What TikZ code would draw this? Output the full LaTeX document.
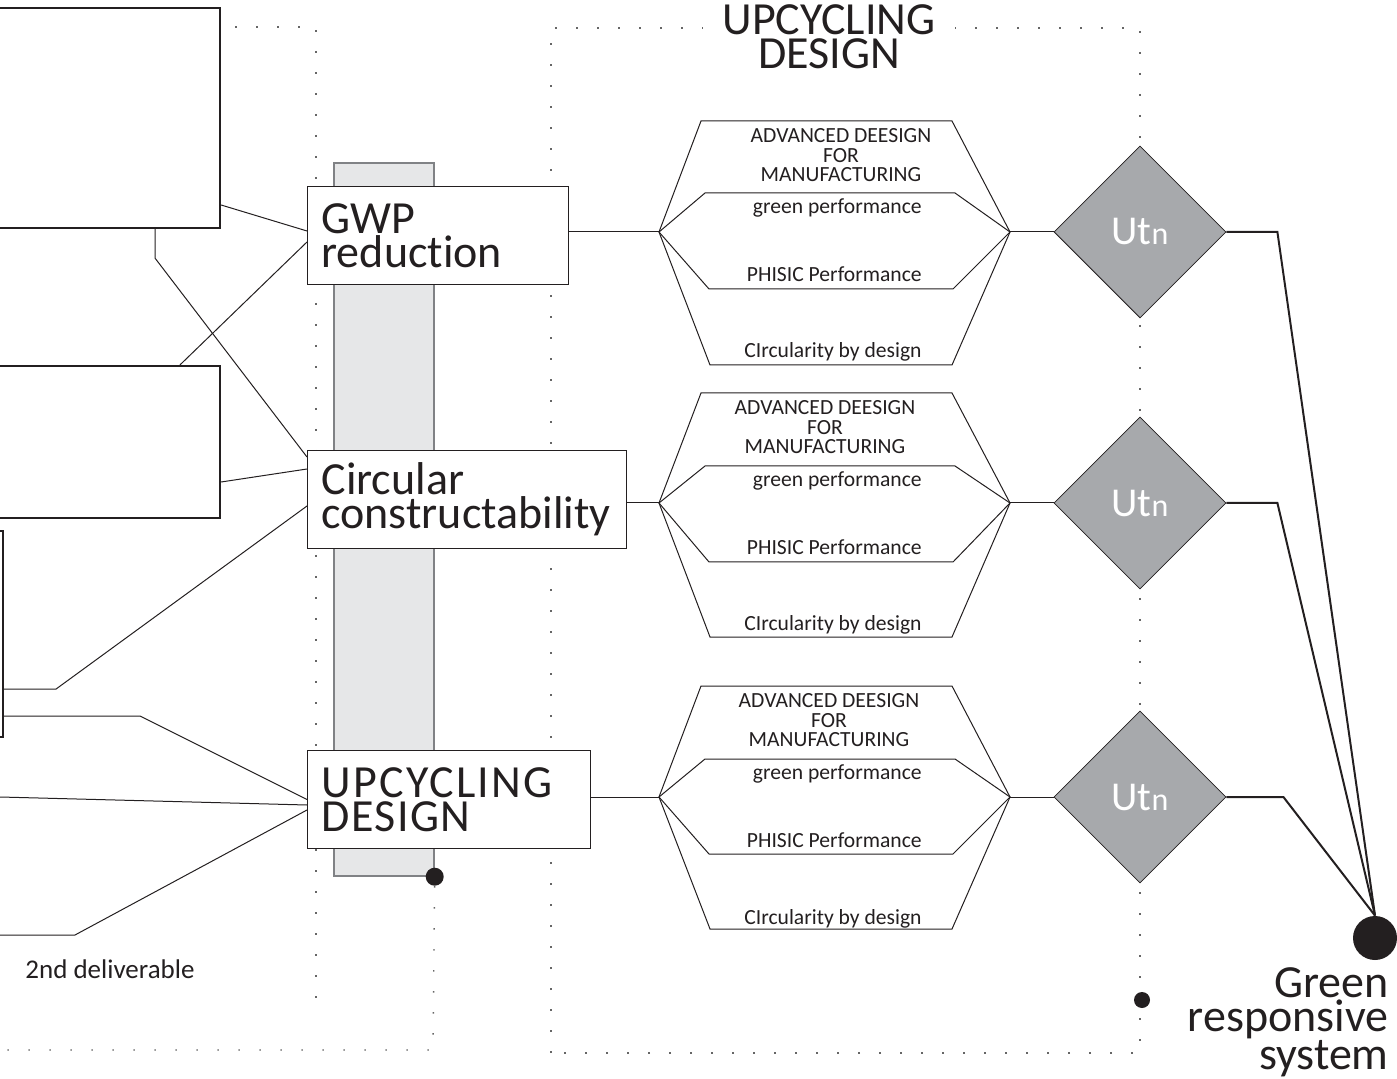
\documentclass[tikz,border=0pt]{standalone}
\usepackage{fontspec}
\setmainfont{Carlito}[RawFeature={-liga;-clig;-calt;-dlig}]
\usepackage{tikz}
\usetikzlibrary{arrows.meta, positioning, shapes.geometric, calc}

\definecolor{ink}{HTML}{231F20}
\definecolor{barfill}{HTML}{E6E7E8}
\definecolor{bardraw}{HTML}{808285}
\definecolor{utfill}{HTML}{A7A9AC}

\begin{document}
\begin{tikzpicture}[
        x=0.5pt, y=-0.5pt,
        every node/.style = {text=ink},
        % Cadres de gauche (sources)
        srcbox/.style = {
            rectangle,
            draw=ink,
            line width=1.1pt,
            fill=white,
            inner sep=0pt
        },
        % Blocs principaux
        block/.style = {
            rectangle,
            draw=ink,
            line width=0.5pt,
            fill=white,
            inner xsep=7pt,
            minimum height=49pt,
            align=left,
            font=\fontsize{23}{17}\selectfont
        },
        headline/.style = {align=center, fill=white, inner xsep=10pt, inner ysep=0pt, font=\fontsize{23}{17}\selectfont},
        hextext/.style = {inner sep=0pt, font=\fontsize{10.8}{9.8}\selectfont},
        % Losanges gris
        utbox/.style = {
            diamond,
            draw=ink,
            line width=0.4pt,
            fill=utfill,
            minimum width=86pt,
            minimum height=86pt,
            inner sep=0pt,
            text=white,
            font=\fontsize{20.5}{20.5}\selectfont
        },
        blob/.style = {circle, fill=ink, inner sep=0pt, minimum size=#1},
        spinebar/.style = {rectangle, fill=barfill, draw=bardraw, line width=0.7pt, minimum width=50pt, minimum height=356.5pt},
        % Traits
        link/.style = {draw=ink, line width=0.5pt},
        boldlink/.style = {draw=ink, line width=1pt},
        dotframe/.style = {draw=gray!80!black, line width=0.7pt, dash pattern=on 0.8pt off 9.7pt}
    ]

        \useasboundingbox (0,0) rectangle (1397,1079);
        \clip (0,0) rectangle (1397,1079);

        % 1. Cadres pointillés
        \draw [dotframe] (235,27) -- (316,27) -- (316,1000);
        \draw [dotframe] (551,1053) -- (551,28) -- (1140,28) -- (1140,1053) -- cycle;
        \node (head) [headline] at (829,37) {UPCYCLING\\DESIGN};

        % 2. Barre verticale et sources
        \node (spine) [spinebar] at (384,519.5) {};
        \node (barend) [blob=9pt] at (spine.south east) {};
        \draw [dotframe] (barend) -- (433,1050) -- (0,1050);

        \node (srcA) [srcbox, minimum width=115pt, minimum height=110pt] at (105,118) {};
        \node (srcB) [srcbox, minimum width=115pt, minimum height=76pt] at (105,442) {};
        \node (srcC) [srcbox, minimum width=11.5pt, minimum height=103pt] at (-8.5,634) {};
        \coordinate (edgeA) at (0,797);
        \coordinate (edgeB) at (0,935);
        \node (deliv) [anchor=base west, inner sep=0pt, font=\fontsize{13.5}{13.5}\selectfont] at (25,978) {2nd deliverable};

        % 3. Blocs principaux
        \node (gwp)  [block, text width=116.5pt, anchor=west] at (307,236) {GWP\\reduction};
        \node (circ) [block, text width=145.5pt, anchor=west] at (307,499.5) {Circular\\constructability};
        \node (upc)  [block, text width=127.5pt, anchor=west] at (307,799.5) {\addfontfeature{LetterSpace=5}UPCYCLING\\\addfontfeature{LetterSpace=3}DESIGN};

        \draw [link] ($(srcA.east)+(0,87)$) -- ($(gwp.west)+(0,-5)$);
        \draw [link] ($(srcA.south)+(50,0)$) -- ++(0,29) -- ($(circ.north west)+(0,7)$);
        \draw [link] ($(srcB.north)+(75,0)$) -- ($(gwp.west)+(0,6)$);
        \draw [link] ($(srcB.east)+(0,40)$) -- ($(circ.west)+(0,-30.5)$);
        \draw [link] ($(srcC.east)+(0,55)$) -- ++(52,0) -- ($(circ.west)+(0,6.5)$);
        \draw [link] ($(srcC.east)+(0,82)$) -- ++(136,0) -- (upc.west);
        \draw [link] (edgeA) -- ($(upc.west)+(0,5.5)$);
        \draw [link] (edgeB) -- ++(75,0) -- ($(upc.west)+(0,10.5)$);

        % 4. Hexagones
        \coordinate (hexA-in) at (659,232);
        \coordinate (hexA-out) at (1010,232);
        \draw [link] (hexA-in) -- (701,121) -- (952,121) -- (hexA-out) -- (952,365) -- (710,365) -- cycle;
        \draw [link] (hexA-in) -- (705,193) -- (955,193) -- (hexA-out) -- (953,289) -- (709,289) -- cycle;
        \node (advA) [hextext, anchor=north, align=center] at (841,128) {ADVANCED DEESIGN\\FOR\\MANUFACTURING};
        \node (greenA) [hextext, anchor=base east] at (922,214) {green performance};
        \node (phisA) [hextext, anchor=base east] at (922,282) {PHISIC Performance};
        \node (circA) [hextext, anchor=base east] at (922,358) {CIrcularity by design};

        \coordinate (hexB-in) at (659,503);
        \coordinate (hexB-out) at (1010,503);
        \draw [link] (hexB-in) -- (701,393) -- (952,393) -- (hexB-out) -- (952,637) -- (710,637) -- cycle;
        \draw [link] (hexB-in) -- (705,466) -- (955,466) -- (hexB-out) -- (953,562) -- (709,562) -- cycle;
        \node (advB) [hextext, anchor=north, align=center] at (825,400) {ADVANCED DEESIGN\\FOR\\MANUFACTURING};
        \node (greenB) [hextext, anchor=base east] at (922,487) {green performance};
        \node (phisB) [hextext, anchor=base east] at (922,555) {PHISIC Performance};
        \node (circB) [hextext, anchor=base east] at (922,631) {CIrcularity by design};

        \coordinate (hexC-in) at (659,797);
        \coordinate (hexC-out) at (1010,797);
        \draw [link] (hexC-in) -- (701,686) -- (952,686) -- (hexC-out) -- (952,929) -- (710,929) -- cycle;
        \draw [link] (hexC-in) -- (705,759) -- (955,759) -- (hexC-out) -- (953,854) -- (709,854) -- cycle;
        \node (advC) [hextext, anchor=north, align=center] at (829,693) {ADVANCED DEESIGN\\FOR\\MANUFACTURING};
        \node (greenC) [hextext, anchor=base east] at (922,779) {green performance};
        \node (phisC) [hextext, anchor=base east] at (922,847) {PHISIC Performance};
        \node (circC) [hextext, anchor=base east] at (922,924) {CIrcularity by design};

        \draw [link] (gwp.east |- hexA-in) -- (hexA-in);
        \draw [link] (circ.east |- hexB-in) -- (hexB-in);
        \draw [link] (upc.east |- hexC-in) -- (hexC-in);

        % 5. Losanges et système final
        \node (utA) [utbox] at (1140,232) {Ut{\fontsize{16}{16}\selectfont n}};
        \node (utB) [utbox] at (1140,503) {Ut{\fontsize{16}{16}\selectfont n}};
        \node (utC) [utbox] at (1140,797) {Ut{\fontsize{16}{16}\selectfont n}};
        \node (tick) [blob=8pt] at (1142,1000) {};
        \node (sink) [blob=22pt] at (1375,938) {};
        \node (sinklabel) [anchor=north east, align=right, inner sep=0pt, font=\fontsize{23}{17}\selectfont] at (1389,967) {Green\\responsive\\system};

        \draw [link] (hexA-out) -- (utA);
        \draw [link] (hexB-out) -- (utB);
        \draw [link] (hexC-out) -- (utC);
        \draw [boldlink] (utA.east) -- ++(51,0) -- (sink.north);
        \draw [boldlink] (utB.east) -- ++(51,0) -- (sink.north);
        \draw [boldlink] (utC.east) -- ++(57,0) -- (sink.north);

    \end{tikzpicture}
\end{document}
